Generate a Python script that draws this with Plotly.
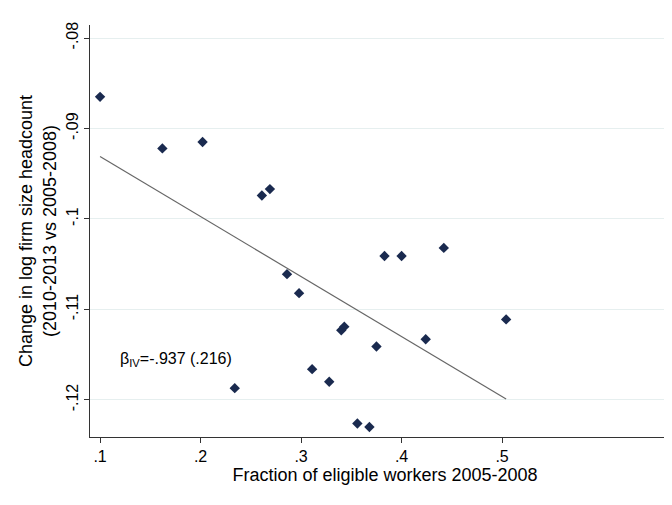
import plotly.graph_objects as go

# Binned scatter values
frac = [0.100, 0.162, 0.202, 0.261, 0.269, 0.286, 0.298, 0.340, 0.343, 0.234,
        0.311, 0.328, 0.356, 0.368, 0.375, 0.383, 0.400, 0.424, 0.442, 0.504]
dlog = [-0.0865, -0.0922, -0.0915, -0.0974, -0.0967, -0.1061, -0.1082, -0.1123, -0.1119, -0.1187,
        -0.1166, -0.1180, -0.1226, -0.1230, -0.1141, -0.1041, -0.1041, -0.1133, -0.1032, -0.1111]

# Fitted line endpoints
fit_x = [0.100, 0.504]
fit_y = [-0.0931, -0.1199]

xticks = [0.1, 0.2, 0.3, 0.4, 0.5]
xlabels = ['.1', '.2', '.3', '.4', '.5']
yticks = [-0.08, -0.09, -0.1, -0.11, -0.12]
ylabels = ['-.08', '-.09', '-.1', '-.11', '-.12']

fig = go.Figure()
fig.add_trace(go.Scatter(x=fit_x, y=fit_y, mode='lines',
                         line=dict(color='#666666', width=1.2)))
fig.add_trace(go.Scatter(x=frac, y=dlog, mode='markers',
                         marker=dict(symbol='diamond', size=8, color='#1a2a4f')))

fig.add_annotation(x=0.1175, y=-0.1155, xanchor='left', yanchor='middle', showarrow=False,
                   text='β<sub>IV</sub>=-.937 (.216)', font=dict(size=16, color='black'))

font = dict(family='Liberation Sans, Arial, sans-serif', size=15, color='black')
fig.update_layout(
    width=672, height=505, showlegend=False,
    paper_bgcolor='white', plot_bgcolor='white',
    margin=dict(l=82, r=0, t=17, b=76),
    font=font,
    xaxis=dict(range=[0.090, 0.677], tickvals=xticks, ticktext=xlabels,
               showgrid=False, zeroline=False, showline=True, linecolor='#333333',
               ticks='outside', ticklen=5, tickcolor='#333333', automargin=False,
               tickfont=dict(size=16),
               title=dict(text='Fraction of eligible workers 2005-2008', standoff=2)),
    yaxis=dict(range=[-0.1241, -0.07856], tickvals=yticks, ticktext=ylabels,
               tickangle=-90, showgrid=True, gridcolor='#e6efef', zeroline=False,
               showline=True, linecolor='#333333', ticks='outside', ticklen=5,
               tickcolor='#333333', automargin=False, tickfont=dict(size=16),
               title=dict(text='Change in log firm size headcount<br>(2010-2013 vs 2005-2008)',
                          standoff=2)),
)

fig.write_html("out.html")
